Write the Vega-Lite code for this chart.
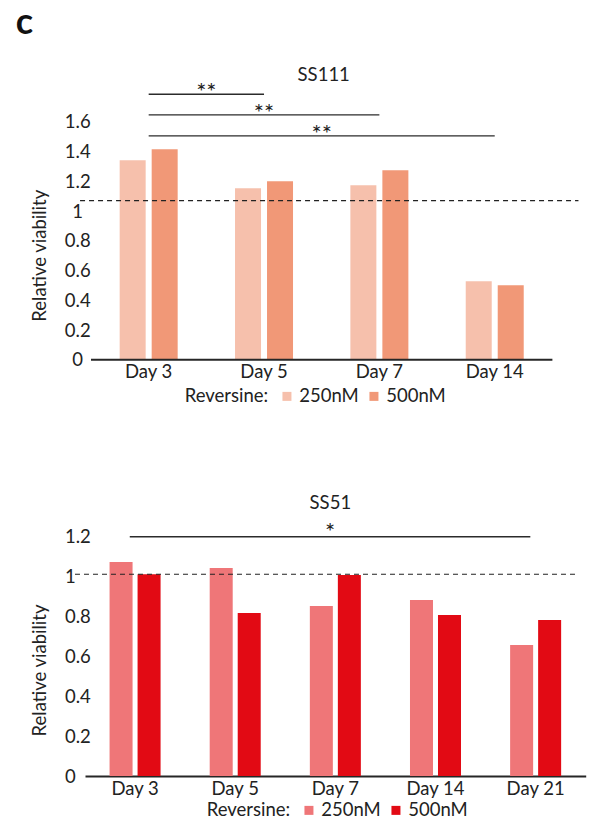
{
  "$schema": "https://vega.github.io/schema/vega-lite/v6.json",
  "background": "white",
  "padding": {"left": 15, "top": 4, "right": 5, "bottom": 5},
  "title": {"text": "c", "anchor": "start", "fontSize": 36, "fontWeight": "bold", "font": "Lato", "color": "#111111", "dx": -15, "offset": 24},
  "config": {
    "font": "Lato",
    "view": {"stroke": null},
    "axis": {"labelFont": "Lato", "titleFont": "Lato", "labelColor": "#222222", "titleColor": "#222222", "labelFontSize": 18.5, "titleFontSize": 18.5, "titleFontWeight": "normal", "labelOverlap": false, "minExtent": 0, "titlePadding": 0},
    "axisY": {"labelOverlap": false},
    "axisQuantitative": {"labelOverlap": false},
    "legend": {"labelFont": "Lato", "titleFont": "Lato"}
  },
  "spacing": 87,
  "resolve": {"scale": {"color": "independent", "x": "independent", "y": "independent", "xOffset": "independent"}},
  "vconcat": [
    {
      "width": 467.4,
      "height": 267.75,
      "title": {"text": "SS111", "frame": "group", "anchor": "middle", "offset": -3, "fontSize": 18.5, "fontWeight": "normal", "color": "#222222", "dx": 5},
      "encoding": {
        "y": {"field": "v", "type": "quantitative",
          "scale": {"domain": [0, 1.8]},
          "axis": {"title": "Relative viability", "values": [0, 0.2, 0.4, 0.6, 0.8, 1, 1.2, 1.4, 1.6], "format": "~g", "grid": false, "domain": false, "ticks": false, "tickSize": 0, "labelOverlap": false, "labelAlign": "center", "labelPadding": 7.8, "titleX": -35.3, "titleY": 163.25, "titleBaseline": "bottom"}}
      },
      "layer": [
        {
          "data": {"values": [
            {"day": "Day 3", "dose": "250nM", "v": 1.341},
            {"day": "Day 3", "dose": "500nM", "v": 1.415},
            {"day": "Day 5", "dose": "250nM", "v": 1.153},
            {"day": "Day 5", "dose": "500nM", "v": 1.2},
            {"day": "Day 7", "dose": "250nM", "v": 1.173},
            {"day": "Day 7", "dose": "500nM", "v": 1.274},
            {"day": "Day 14", "dose": "250nM", "v": 0.528},
            {"day": "Day 14", "dose": "500nM", "v": 0.501}
          ]},
          "mark": {"type": "bar"},
          "encoding": {
            "x": {"field": "day", "type": "nominal", "title": null,
              "scale": {"domain": ["Day 3", "Day 5", "Day 7", "Day 14"], "paddingInner": 0, "paddingOuter": 0.026, "align": 1},
              "axis": {"title": null, "labelAngle": 0, "ticks": false, "labelPadding": 3, "domain": false, "labelOverlap": false}},
            "xOffset": {"field": "dose", "type": "nominal", "scale": {"paddingInner": 0.1875, "paddingOuter": 0.896}},
            "color": {"field": "dose", "type": "nominal",
              "scale": {"domain": ["250nM", "500nM"], "range": ["#F6C0AC", "#F19877"]},
              "legend": {"orient": "none", "legendX": 99.7, "legendY": 295, "direction": "horizontal", "title": "Reversine:", "titleOrient": "left", "titleFontSize": 18.5, "titleFontWeight": "normal", "titleColor": "#222222", "labelFontSize": 18.5, "labelColor": "#222222", "symbolType": "square", "symbolSize": 81, "symbolStrokeWidth": 0, "labelOffset": 3, "columnPadding": 5, "titlePadding": 9, "padding": 0}}
          }
        },
        {
          "data": {"values": [{"day": "Day 3", "day2": "Day 14", "v": 0}]},
          "mark": {"type": "rule", "strokeWidth": 2, "color": "#262626"},
          "encoding": {
            "x": {"field": "day", "type": "nominal", "bandPosition": 0, "title": null},
            "x2": {"field": "day2", "bandPosition": 1}
          }
        },
        {
          "data": {"values": [{"day": "Day 3", "day2": "Day 14", "v": 1.07}]},
          "mark": {"type": "rule", "strokeDash": [5, 4], "strokeWidth": 1.1, "color": "#222222"},
          "encoding": {
            "x": {"field": "day", "type": "nominal", "bandPosition": -0.095, "title": null},
            "x2": {"field": "day2", "bandPosition": 1.226}
          }
        },
        {
          "data": {"values": [
            {"day": "Day 3", "day2": "Day 5", "v": 1.785},
            {"day": "Day 3", "day2": "Day 7", "v": 1.646},
            {"day": "Day 3", "day2": "Day 14", "v": 1.505}
          ]},
          "mark": {"type": "rule", "strokeWidth": 1.4, "color": "#2b2b2b"},
          "encoding": {
            "x": {"field": "day", "type": "nominal", "bandPosition": 0.5, "title": null},
            "x2": {"field": "day2", "bandPosition": 0.5}
          }
        },
        {
          "data": {"values": [{"day": "Day 3", "v": 1.745, "label": "**"}]},
          "mark": {"type": "text", "fontSize": 24, "baseline": "alphabetic", "color": "#222222"},
          "encoding": {
            "x": {"field": "day", "type": "nominal", "bandPosition": 1, "title": null},
            "text": {"field": "label"}
          }
        },
        {
          "data": {"values": [{"day": "Day 5", "v": 1.605, "label": "**"}]},
          "mark": {"type": "text", "fontSize": 24, "baseline": "alphabetic", "color": "#222222"},
          "encoding": {
            "x": {"field": "day", "type": "nominal", "bandPosition": 0.5, "title": null},
            "text": {"field": "label"}
          }
        },
        {
          "data": {"values": [{"day": "Day 7", "v": 1.466, "label": "**"}]},
          "mark": {"type": "text", "fontSize": 24, "baseline": "alphabetic", "color": "#222222"},
          "encoding": {
            "x": {"field": "day", "type": "nominal", "bandPosition": 0, "title": null},
            "text": {"field": "label"}
          }
        }
      ]
    },
    {
      "width": 500.7,
      "height": 260,
      "title": {"text": "SS51", "frame": "group", "anchor": "middle", "offset": 4, "fontSize": 18.5, "fontWeight": "normal", "color": "#222222", "dx": -5},
      "encoding": {
        "y": {"field": "v", "type": "quantitative",
          "scale": {"domain": [0, 1.3]},
          "axis": {"title": "Relative viability", "values": [0, 0.2, 0.4, 0.6, 0.8, 1, 1.2], "format": "~g", "grid": false, "domain": false, "ticks": false, "tickSize": 0, "labelOverlap": false, "labelAlign": "left", "labelPadding": 20.6, "titleX": -35.3, "titleY": 154, "titleBaseline": "bottom"}}
      },
      "layer": [
        {
          "data": {"values": [
            {"day": "Day 3", "dose": "250nM", "v": 1.07},
            {"day": "Day 3", "dose": "500nM", "v": 1.009},
            {"day": "Day 5", "dose": "250nM", "v": 1.04},
            {"day": "Day 5", "dose": "500nM", "v": 0.815},
            {"day": "Day 7", "dose": "250nM", "v": 0.85},
            {"day": "Day 7", "dose": "500nM", "v": 1.005},
            {"day": "Day 14", "dose": "250nM", "v": 0.88},
            {"day": "Day 14", "dose": "500nM", "v": 0.805},
            {"day": "Day 21", "dose": "250nM", "v": 0.655},
            {"day": "Day 21", "dose": "500nM", "v": 0.78}
          ]},
          "mark": {"type": "bar"},
          "encoding": {
            "x": {"field": "day", "type": "nominal", "title": null,
              "scale": {"domain": ["Day 3", "Day 5", "Day 7", "Day 14", "Day 21"], "paddingInner": 0, "paddingOuter": 0},
              "axis": {"title": null, "labelAngle": 0, "ticks": false, "labelPadding": 3, "domainColor": "#262626", "domainWidth": 2, "labelOverlap": false}},
            "xOffset": {"field": "dose", "type": "nominal", "scale": {"paddingInner": 0.1786, "paddingOuter": 0.877}},
            "color": {"field": "dose", "type": "nominal",
              "scale": {"domain": ["250nM", "500nM"], "range": ["#EF7678", "#E20A14"]},
              "legend": {"orient": "none", "legendX": 121.7, "legendY": 285, "direction": "horizontal", "title": "Reversine:", "titleOrient": "left", "titleFontSize": 18.5, "titleFontWeight": "normal", "titleColor": "#222222", "labelFontSize": 18.5, "labelColor": "#222222", "symbolType": "square", "symbolSize": 81, "symbolStrokeWidth": 0, "labelOffset": 3, "columnPadding": 5, "titlePadding": 9, "padding": 0}}
          }
        },
        {
          "data": {"values": [{"day": "Day 3", "day2": "Day 21", "v": 1.0085}]},
          "mark": {"type": "rule", "strokeDash": [5, 4], "strokeWidth": 1.1, "color": "#222222"},
          "encoding": {
            "x": {"field": "day", "type": "nominal", "bandPosition": -0.1, "title": null},
            "x2": {"field": "day2", "bandPosition": 0.927}
          }
        },
        {
          "data": {"values": [{"day": "Day 3", "day2": "Day 21", "v": 1.1965}]},
          "mark": {"type": "rule", "strokeWidth": 1.6, "color": "#2b2b2b"},
          "encoding": {
            "x": {"field": "day", "type": "nominal", "bandPosition": 0.447, "title": null},
            "x2": {"field": "day2", "bandPosition": 0.447}
          }
        },
        {
          "data": {"values": [{"day": "Day 7", "v": 1.181, "label": "*"}]},
          "mark": {"type": "text", "fontSize": 24, "baseline": "alphabetic", "color": "#222222"},
          "encoding": {
            "x": {"field": "day", "type": "nominal", "bandPosition": 0.447, "title": null},
            "text": {"field": "label"}
          }
        }
      ]
    }
  ]
}
